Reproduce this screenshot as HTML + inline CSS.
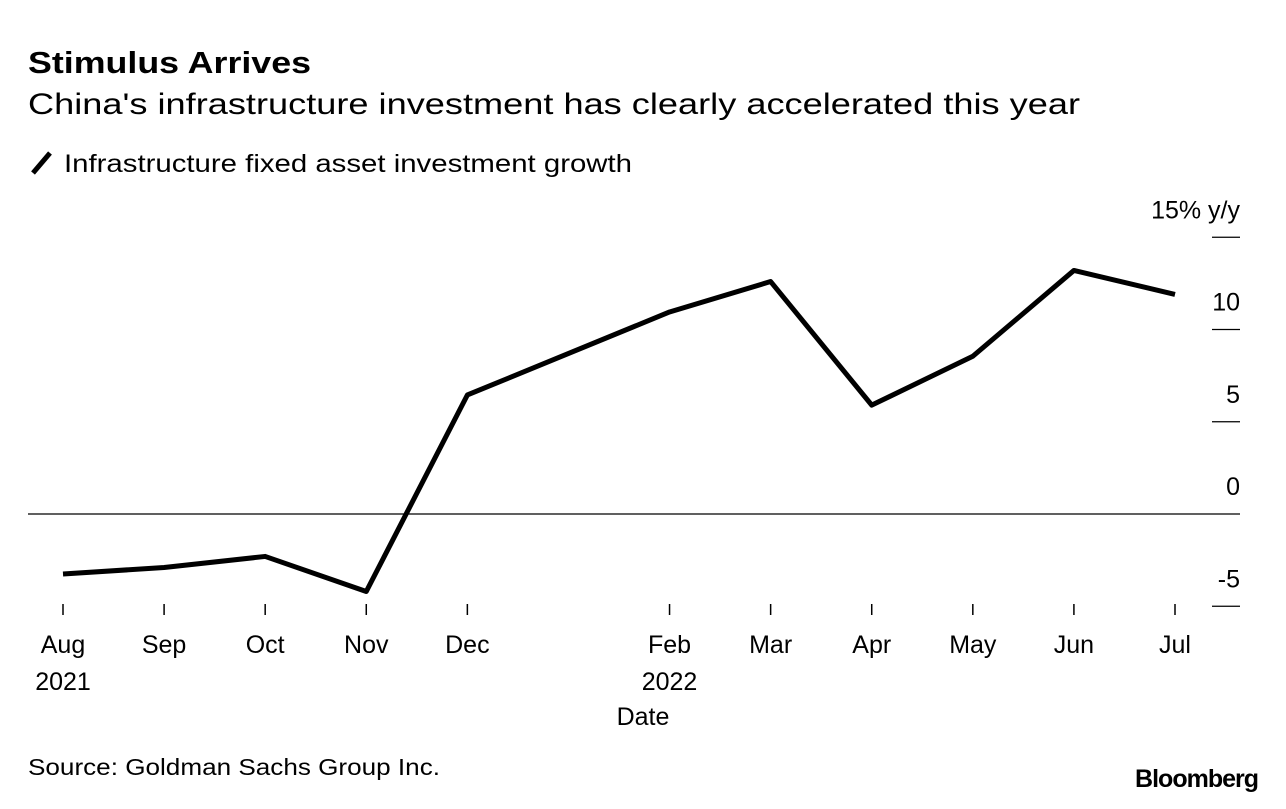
<!DOCTYPE html>
<html><head><meta charset="utf-8"><style>
body{margin:0;background:#fff;font-family:"Liberation Sans",sans-serif;}
svg text{font-family:"Liberation Sans",sans-serif;fill:#000;}
</style></head><body>
<svg width="1286" height="804">
<text x="28" y="73" font-size="31" font-weight="bold" textLength="283" lengthAdjust="spacingAndGlyphs">Stimulus Arrives</text>
<text x="28" y="114" font-size="30" textLength="1052" lengthAdjust="spacingAndGlyphs">China's infrastructure investment has clearly accelerated this year</text>
<line x1="33" y1="173" x2="50" y2="153" stroke="#000" stroke-width="5"/>
<text x="64" y="172" font-size="25" textLength="568" lengthAdjust="spacingAndGlyphs">Infrastructure fixed asset investment growth</text>
<g id="axes"></g>
<path id="line" fill="none" stroke="#000" stroke-width="5" stroke-linejoin="round"/>
<text x="643" y="725" font-size="25" text-anchor="middle">Date</text>
<text x="28" y="775" font-size="23" textLength="412" lengthAdjust="spacingAndGlyphs">Source: Goldman Sachs Group Inc.</text>
<text x="1258" y="787" font-size="25" font-weight="bold" text-anchor="end" letter-spacing="-1">Bloomberg</text>
</svg>
<script>
const monthIdx=[0,1,2,3,4,6,7,8,9,10,11];
const values=[-3.25,-2.9,-2.3,-4.2,6.45,10.95,12.6,5.9,8.55,13.2,11.9];
const xLabels=["Aug","Sep","Oct","Nov","Dec","Feb","Mar","Apr","May","Jun","Jul"];
const yearLabels=["2021","","","","","2022","","","","",""];
const yTicks=[15,10,5,0,-5];
const yTickLabels=["15% y/y","10","5","0","-5"];
function x(m){return 63+m/11*1112;}
function y(v){return 514-v*18.45;}
const ns="http://www.w3.org/2000/svg",ax=document.getElementById("axes");
function mk(tag,attrs,txt){const e=document.createElementNS(ns,tag);for(const k in attrs)e.setAttribute(k,attrs[k]);if(txt!==undefined)e.textContent=txt;ax.appendChild(e);return e;}
yTicks.forEach((v,i)=>{
 if(v===0){const z=mk("line",{x1:28,x2:1240,y1:y(v),y2:y(v),stroke:"#000","stroke-width":1.3});
 
 }
 else{const l=mk("line",{x1:1212,x2:1240,y1:y(v),y2:y(v),stroke:"#000","stroke-width":1.3});
 
 }
 const t=mk("text",{x:1240,y:y(v)-19,"font-size":25,"text-anchor":"end"},yTickLabels[i]);
 
 
});
monthIdx.forEach((m,i)=>{
 const l=mk("line",{x1:x(m),x2:x(m),y1:604,y2:615,stroke:"#000","stroke-width":1.5});
 
 
 const t=mk("text",{x:x(m),y:653,"font-size":25,"text-anchor":"middle"},xLabels[i]);
 
 
 if(yearLabels[i]){const yt=mk("text",{x:x(m),y:690,"font-size":25,"text-anchor":"middle"},yearLabels[i]);
 
 }
});
document.getElementById("line").setAttribute("d",monthIdx.map((m,i)=>(i?"L":"M")+x(m)+","+y(values[i])).join(""));
</script>
</body></html>
